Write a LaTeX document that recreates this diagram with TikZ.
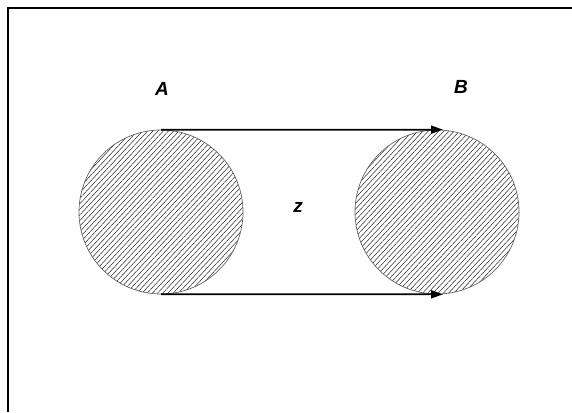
\documentclass[tikz,border=0pt]{standalone}
\usepackage{fontspec}
\setmainfont{Liberation Sans}
\usetikzlibrary{patterns.meta,arrows.meta,calc}
\begin{document}
\begin{tikzpicture}[x=1pt,y=1pt,
  disc/.style={circle,draw=black!60,line width=0.7pt,minimum size=164pt,inner sep=0pt,
    pattern={Lines[angle=47,distance=3.8pt,line width=0.5pt]},pattern color=black!85},
  arr/.style={line width=1.8pt,-{Triangle[length=12pt,width=8pt]}},
  lbl/.style={font=\fontsize{19}{19}\selectfont\bfseries\itshape,inner sep=0pt}]
\useasboundingbox (0,0) rectangle (572,412);
\fill[white] (0,0) rectangle (572,412);
\draw[line width=1.5pt] (8,0) |- (572,404);
\node[disc] (A) at (161,200) {};
\node[disc] (B) at (437,200) {};
\draw[arr] (A.north) -- ([xshift=6pt]B.north);
\draw[arr] (A.south) -- ([xshift=6pt]B.south);
\node[lbl] (la) at (162,323) {A};
\node[lbl] (lb) at (461,325) {B};
\node[lbl] (lz) at (298,205) {z};
\end{tikzpicture}
\end{document}
